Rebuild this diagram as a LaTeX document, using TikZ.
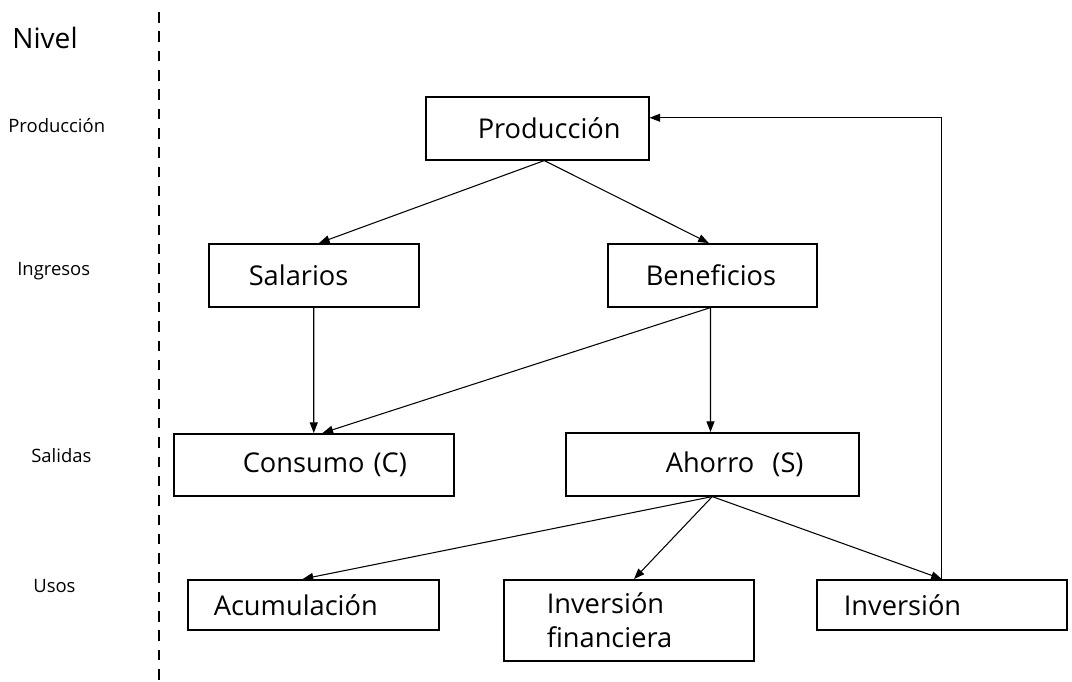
\documentclass[tikz,border=0pt]{standalone}
\usepackage{fontspec}
\setmainfont{Open Sans}
\usetikzlibrary{arrows.meta}

\tikzset{
  box/.style={draw, line width=0.9pt, anchor=north west, inner xsep=0pt,
    inner ysep=0pt, align=left, font=\fontsize{15.5}{19}\selectfont},
  level/.style={font=\fontsize{10.5}{12}\selectfont, inner sep=0pt},
  flow/.style={line width=0.6pt, -{Triangle[length=6pt,width=4.5pt]}}
}

\begin{document}
\begin{tikzpicture}[x=0.02cm, y=-0.02cm]

    % Frame of the picture
    \useasboundingbox (0,0) rectangle (1072,681);

    % Level column and its dashed separator
    \node[anchor=west, inner sep=0pt, font=\fontsize{16}{19}\selectfont] (nivel) at (12,38) {Nivel};
    \node[level, anchor=west] (lprod) at (8,126) {Producción};
    \node[level, anchor=west] (ling) at (17,271) {Ingresos};
    \node[level, anchor=west] (lsal) at (31,456) {Salidas};
    \node[level, anchor=west] (luso) at (33,586) {Usos};
    \draw[line width=0.9pt, dash pattern=on 6pt off 5pt] (159,12) -- (159,681);

    % Boxes, one row per level
    \node[box, text width=4.46cm, minimum height=1.26cm] (prod) at (425,96) {\hspace*{1.04cm}Producción};
    \node[box, text width=4.20cm, minimum height=1.26cm] (sal) at (208,243) {\hspace*{0.80cm}Salarios};
    \node[box, text width=4.18cm, minimum height=1.26cm] (ben) at (607,243) {\hspace*{0.76cm}Beneficios};
    \node[box, text width=5.60cm, minimum height=1.24cm] (con) at (173,433) {\hspace*{1.38cm}Consumo (C)};
    \node[box, text width=5.86cm, minimum height=1.26cm] (aho) at (565,432) {\hspace*{2.00cm}Ahorro\ \ (S)};
    \node[box, text width=5.02cm, minimum height=1.00cm] (acu) at (187,579) {\hspace*{0.52cm}Acumulación};
    \node[box, text width=5.00cm, minimum height=1.62cm] (ifi) at (503,579) {\hspace*{0.86cm}Inversión\\\hspace*{0.86cm}financiera};
    \node[box, text width=5.00cm, minimum height=1.00cm] (inv) at (816,579) {\hspace*{0.54cm}Inversión};

    % Arrows between the levels
    \draw[flow] ([xshift=4pt]prod.south) -- ([xshift=3pt]sal.north);
    \draw[flow] ([xshift=4pt]prod.south) -- ([xshift=-2pt]ben.north);
    \draw[flow] (sal.south) -- (con.north);
    \draw[flow] ([xshift=-1pt]ben.south) -- ([xshift=5pt]con.north);
    \draw[flow] ([xshift=-1pt]ben.south) -- ([xshift=-1pt]aho.north);
    \draw[flow] (aho.south) -- ([xshift=-6pt]acu.north);
    \draw[flow] (aho.south) -- ([xshift=3pt]ifi.north);
    \draw[flow] (aho.south) -- (inv.north);

    % Feedback from investment to production
    \draw[flow] (inv.north) |- ([yshift=6pt]prod.east);

\end{tikzpicture}
\end{document}
